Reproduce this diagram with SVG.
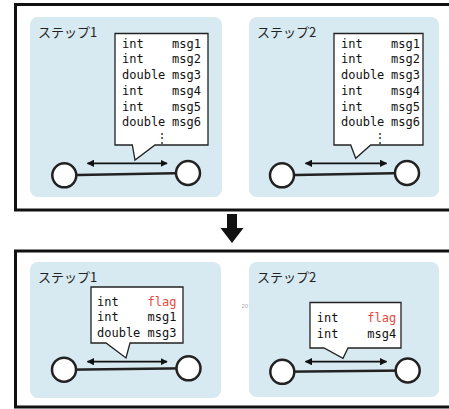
<svg xmlns="http://www.w3.org/2000/svg" width="449" height="409" viewBox="0 0 449 409">
<style>
.frame{fill:#fff;stroke:#111;stroke-width:3}
.panel{fill:#d7e9f1;stroke:none}
.lbl{font-family:"Noto Sans CJK JP","Noto Sans",sans-serif;font-size:13px;fill:#222}
.box{fill:#fff;stroke:#222;stroke-width:1.3;stroke-linejoin:miter}
.code{font-family:"DejaVu Sans Mono","Liberation Mono",monospace;font-size:12px;fill:#111}
.red{fill:#e8473c}
.node{fill:#fff;stroke:#222;stroke-width:2.5}
.link{stroke:#222;stroke-width:2.5;fill:none}
.arr{stroke:#111;stroke-width:1.8;fill:none;marker-start:url(#ah);marker-end:url(#ah)}
</style>
<defs>
<marker id="ah" viewBox="0 0 10 10" refX="9" refY="5" markerWidth="4" markerHeight="4" orient="auto-start-reverse" markerUnits="strokeWidth">
<path d="M0,0 L10,5 L0,10 Z" fill="#111"/>
</marker>
</defs>

<g id="top-frame"><rect class="frame" x="15.5" y="4.5" width="450" height="205.5"/></g>
<g id="bottom-frame"><rect class="frame" x="15.5" y="251" width="450" height="156"/></g>

<g id="down-arrow"><path d="M227,214 H237 V228 H243.5 L232,243 L220.5,228 H227 Z" fill="#111"/></g>

<g id="top-step1">
<rect class="panel" x="30" y="17" width="192" height="180" rx="8"/>
<text class="lbl" x="38" y="37">ステップ1</text>
</g>
<g id="top-step2">
<rect class="panel" x="249" y="17" width="190" height="180" rx="8"/>
<text class="lbl" x="257" y="37">ステップ2</text>
</g>
<g id="bottom-step1">
<rect class="panel" x="30" y="262" width="191" height="136" rx="8"/>
<text class="lbl" x="38" y="282">ステップ1</text>
</g>
<g id="bottom-step2">
<rect class="panel" x="249" y="262" width="190" height="135" rx="8"/>
<text class="lbl" x="257" y="282">ステップ2</text>
</g>

<g id="callout-top1">
<path class="box" d="M115,33.5 H208 V145 H155 L135,160 L132.3,145 H115 Z"/>
<text class="code"><tspan x="122" y="47.7">int</tspan><tspan x="172" y="47.7">msg1</tspan></text>
<text class="code"><tspan x="122" y="63.4">int</tspan><tspan x="172" y="63.4">msg2</tspan></text>
<text class="code"><tspan x="122" y="79.1">double</tspan><tspan x="172" y="79.1">msg3</tspan></text>
<text class="code"><tspan x="122" y="94.8">int</tspan><tspan x="172" y="94.8">msg4</tspan></text>
<text class="code"><tspan x="122" y="110.5">int</tspan><tspan x="172" y="110.5">msg5</tspan></text>
<text class="code"><tspan x="122" y="126.2">double</tspan><tspan x="172" y="126.2">msg6</tspan></text>
<text class="code" x="162" y="142" text-anchor="middle">⋮</text>
</g>
<g id="callout-top2">
<path class="box" d="M334,33.5 H423 V145 H370.7 L355.7,158.3 L350.7,145 H334 Z"/>
<text class="code"><tspan x="341" y="47.7">int</tspan><tspan x="391" y="47.7">msg1</tspan></text>
<text class="code"><tspan x="341" y="63.4">int</tspan><tspan x="391" y="63.4">msg2</tspan></text>
<text class="code"><tspan x="341" y="79.1">double</tspan><tspan x="391" y="79.1">msg3</tspan></text>
<text class="code"><tspan x="341" y="94.8">int</tspan><tspan x="391" y="94.8">msg4</tspan></text>
<text class="code"><tspan x="341" y="110.5">int</tspan><tspan x="391" y="110.5">msg5</tspan></text>
<text class="code"><tspan x="341" y="126.2">double</tspan><tspan x="391" y="126.2">msg6</tspan></text>
<text class="code" x="380" y="142" text-anchor="middle">⋮</text>
</g>
<g id="callout-bottom1">
<path class="box" d="M91,287 H183 V343 H130 L126,358 L106,343 H91 Z"/>
<text class="code"><tspan x="97" y="305.5">int</tspan><tspan class="red" x="147.5" y="305.5">flag</tspan></text>
<text class="code"><tspan x="97" y="321">int</tspan><tspan x="147.5" y="321">msg1</tspan></text>
<text class="code"><tspan x="97" y="336.5">double</tspan><tspan x="147.5" y="336.5">msg3</tspan></text>
</g>
<g id="callout-bottom2">
<path class="box" d="M310,302.5 H401 V348 H348 L343,358.3 L324,348 H310 Z"/>
<text class="code"><tspan x="316.7" y="322">int</tspan><tspan class="red" x="367.3" y="322">flag</tspan></text>
<text class="code"><tspan x="316.7" y="337.7">int</tspan><tspan x="367.3" y="337.7">msg4</tspan></text>
</g>

<text x="241.5" y="307.5" font-family="Liberation Sans,sans-serif" font-size="6" fill="#aaa">20</text>

<g id="connectors">
<line class="link" x1="64.3" y1="175.3" x2="188" y2="173"/>
<line class="link" x1="282" y1="175.3" x2="407" y2="173"/>
<line class="link" x1="64" y1="369.7" x2="188.5" y2="368.3"/>
<line class="link" x1="282.3" y1="371.8" x2="407.7" y2="370.5"/>
<line class="arr" x1="87.5" y1="163.3" x2="167" y2="163.3"/>
<line class="arr" x1="305.5" y1="163.3" x2="386.5" y2="163.3"/>
<line class="arr" x1="87.5" y1="361.7" x2="167" y2="361.7"/>
<line class="arr" x1="305.5" y1="361.7" x2="386.5" y2="361.7"/>
</g>

<g id="n-t1a"><circle class="node" cx="64.3" cy="175.3" r="12"/></g>
<g id="n-t1b"><circle class="node" cx="188" cy="173" r="12"/></g>
<g id="n-t2a"><circle class="node" cx="282" cy="175.3" r="12"/></g>
<g id="n-t2b"><circle class="node" cx="407" cy="173" r="12"/></g>
<g id="n-b1a"><circle class="node" cx="64" cy="369.7" r="12"/></g>
<g id="n-b1b"><circle class="node" cx="188.5" cy="368.3" r="12"/></g>
<g id="n-b2a"><circle class="node" cx="282.3" cy="371.8" r="12"/></g>
<g id="n-b2b"><circle class="node" cx="407.7" cy="370.5" r="12"/></g>
</svg>
